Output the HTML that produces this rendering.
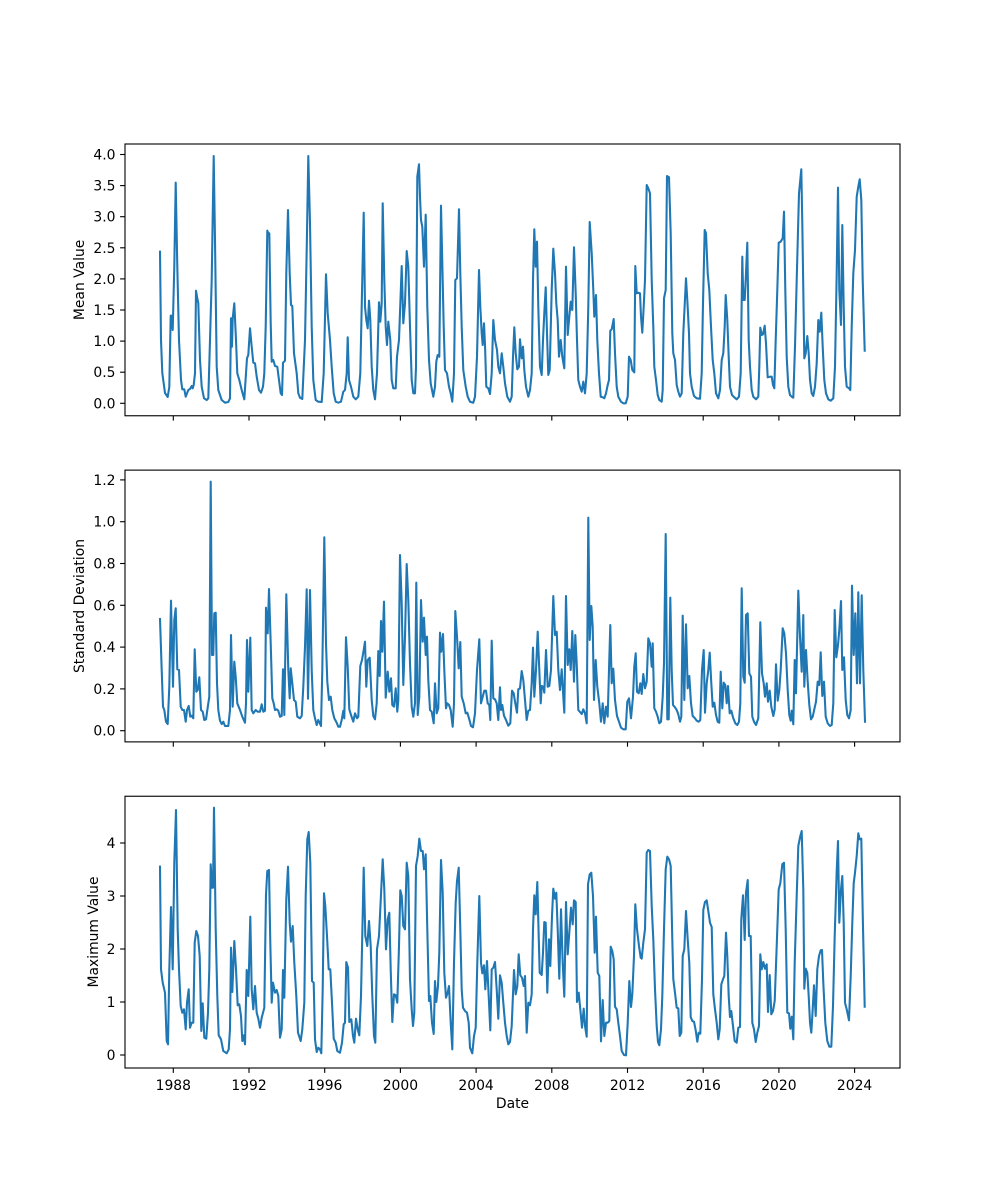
<!DOCTYPE html>
<html><head><meta charset="utf-8"><style>
html,body{margin:0;padding:0;background:#fff;}
svg{display:block;}
text{font-family:"DejaVu Sans","Liberation Sans",sans-serif;font-size:13.9px;fill:#000;}
.ln{fill:none;stroke:#1f77b4;stroke-width:2.08;stroke-linejoin:round;stroke-linecap:square;}
.sp{fill:none;stroke:#000;stroke-width:1.11;}
.tk{stroke:#000;stroke-width:1.11;}
</style></head><body>
<svg width="1000" height="1200" viewBox="0 0 1000 1200" xmlns="http://www.w3.org/2000/svg">
<rect width="1000" height="1200" fill="#fff"/>

<!-- ===== Chart 1 ===== -->
<polyline class="ln" points="160,251.7 161,340 162.3,373 165,393 167.7,397 169.3,387 170.7,315.7 171.7,315.7 172.7,330 174.3,266.7 175.7,182.7 177.3,266.7 179,340 181,380 182.3,389.3 184.3,389.3 185.7,396.7 188.3,390 190,389 191.7,386 192.7,388.3 193.7,385 195,373.3 196,290.7 197,296.7 198.3,303.3 200,360 201.7,386.7 204,398.3 206.7,400 208.3,398.3 210,340 211.7,280 213.7,156 215,240 216.7,366.7 218.3,390 221.7,400 225,402.7 228.3,402 230,398.3 231,318.3 232,346.7 232.7,318.3 234.3,303.3 236,340 237.3,373.3 239.3,380 241.7,390 244.3,399.3 246,373.3 247,358.3 248.3,355 250,328.3 251.7,346.7 253.3,362.7 255,363.3 256.7,376.7 259,390 261,392.7 263,386.7 264.3,373.3 265.7,326.7 267.3,230.7 268.3,233.3 269.3,233.3 270.7,323.3 271.7,361.7 273.3,360 275,366 277.3,366.7 279,380 280.7,393.3 282,395 283,362.7 285,360.7 286.3,273.3 288,210 289.7,273.3 291,305 292.3,306 294,353.3 296.7,373.3 298.3,393.3 300,397.7 302.3,399 305,340 306.7,250 308.3,156 310,223.3 311.7,326.7 313.3,380 315.7,400 318.3,401.7 321.7,402 323.7,373.3 326,274.3 327.7,313.3 330,340 331.7,366.7 333.7,393.3 335.7,401.7 338.3,402.7 341,401.7 343.3,391.7 345,390 346.7,373.3 347.7,337.3 349,380 351,386.7 353.3,396.7 355.7,399.3 358.3,396.7 360.3,373.3 361.7,306.7 363.7,212.7 365,306.7 366.3,320 367.7,328.3 369,300.7 370.3,320 371.7,366.7 373.3,390 375,399.3 377,373.3 379,302.3 380.3,321.7 381.7,303.3 382.7,203.3 384.3,280 385.7,326.7 387,345 388.3,321.7 390.3,340 391.7,380 393.3,388.3 395.7,388.3 397,356.7 399,340 401.7,266 403.3,323.3 405,303.3 406.7,251 408.3,266.7 410,326.7 411.7,380 413.3,393.3 415,393.3 416,366.7 417.3,176.7 419,164.3 420,196.7 421,220 422.3,226.7 424,266.7 425.7,214.7 427.3,306.7 429,360 430.7,383.3 433.3,396.7 435,386.7 436.3,361.7 437.7,355 439.3,356.7 441,205.7 442.3,263.3 443.7,326.7 445,370 447,373.3 449,386.7 450.7,393.3 452.3,401.7 454,373.3 455.3,280 457,278.3 459,209.3 460.3,273.3 461.7,326.7 463.3,370 465.7,386.7 467.7,396.7 470,401.7 473.3,402.7 475,396.7 477,356.7 479,270 480.3,306.7 481.7,333.3 482.7,345 484,323.3 485,345 486.3,386.7 488.3,388.3 490,394 491.7,373.3 493.3,320 495,340 497,350 498.3,366.7 500,373.3 501.7,353.3 503.3,366.7 505,383.3 507.3,396.7 510,401.7 511.7,396.7 513,356.7 514.3,327.3 515.7,353.3 517.3,369.3 519,366.7 520,339.3 521.7,358.3 523,346.7 524.3,370 526,386.7 528.3,396.7 530,390 531.7,373.3 533,280 534.3,229.3 535.7,266.7 537,241.7 538.3,306.7 540,366.7 541.7,375 543,340 544.3,313.3 545.7,287.3 547,333.3 548.3,375 549.7,370 551.7,290 553.3,248.7 555,273.3 556.3,303.3 557.7,320 559,356.7 560.7,340 562.3,356.7 564.3,368.3 566,266.7 567.7,335 569.3,316.7 570.7,301.7 572.3,310 574,247.3 575.7,293.3 577,340 578.3,380 580,386.7 581.7,391.7 583.3,381.7 585,393.3 586.7,373.3 588.3,306.7 589.7,222 591.7,253.3 593.3,290 594.3,316.7 596,295 597.3,340 599,373.3 600.7,396.7 602.7,397.3 604.3,398.3 606,393.3 607.7,385 609,380 610.3,330.7 611.7,329.3 613.7,319 615,353.3 616.7,386.7 618.3,396.7 621,401.7 623.3,403.3 625.7,403.3 627.7,396.7 629,356.7 630.7,360 632.3,370 634.3,372.3 635.3,266 636.7,293.3 638.3,292.7 640,293.3 641,316.7 642.3,332.7 643.7,306.7 645,280 646.7,185 648.3,188.3 650,193.3 651.7,280 653.3,326.7 654.3,366.7 656,380 657.7,395 659.3,400 661.7,401.7 662.7,390 664,298.3 665.7,290 667,176 669,177.3 670.7,233.3 672.3,333.3 673.3,353.3 675,360 676.7,385 678.3,391.7 680,396.7 681.7,393.3 683.3,333.3 686,278.3 687.3,300 689,333.3 690,373.3 691.7,386.7 694,396 696.7,398.3 700,398.7 701.7,373.3 703,303.3 704.7,230 706,233.3 707.7,273.3 709.3,290 711,326.7 712.7,360 714.3,373.3 716,393.3 718.3,398.3 720,390 721.7,360 723.3,353.3 724.7,326.7 725.7,295 727.3,320 728.7,356.7 730,386.7 732,395 734.3,397.3 736.7,399.3 739,396.7 740.7,373.3 742.3,256.7 743.3,300 744.7,300 746,273.3 747.3,242.7 748.7,340 750,366.7 751.7,390 753.3,396.7 756,399.3 758.3,396.7 759.3,366.7 760.3,327.7 761.7,335 763,334.3 764.7,325.7 766,343.3 767.7,377.3 770,376.7 771.7,376.7 773,385 774.3,388.3 775.7,340 777.3,290 778.7,242.7 780.7,241.7 782.7,238.3 784,211.7 785.3,290 786.7,356.7 788.3,386.7 790,395 791.7,396.7 793.3,397.7 795,346.7 796.7,280 799,193.3 801.3,169.3 802.3,223.3 803.3,290 804.3,358.3 805.7,353.3 807.3,336 808.7,353.3 810,380 811.7,393.3 813.3,396 815,386.7 816.7,363.3 818.3,320 819.7,331.7 821.3,312.7 822.7,346.7 824.3,380 826,393.3 828.3,399.3 830.7,400.7 833.3,398.3 835,366.7 836.7,273.3 838,187.7 839.3,290 841,325 842.3,225 843.7,306.7 845,366.7 846.7,386.7 849,388.3 850.3,390 851.7,326.7 853.3,273.3 855,250 856.7,196.7 858.3,186.7 859.7,179.3 861.3,200 862.7,280 864.7,350.7"/>
<rect class="sp" x="125" y="144" width="775" height="271.76"/>
<g class="tk">
<line x1="120.1" y1="403.3" x2="125" y2="403.3"/><line x1="120.1" y1="372.2" x2="125" y2="372.2"/><line x1="120.1" y1="341.1" x2="125" y2="341.1"/><line x1="120.1" y1="310" x2="125" y2="310"/><line x1="120.1" y1="278.9" x2="125" y2="278.9"/><line x1="120.1" y1="247.8" x2="125" y2="247.8"/><line x1="120.1" y1="216.7" x2="125" y2="216.7"/><line x1="120.1" y1="185.6" x2="125" y2="185.6"/><line x1="120.1" y1="154.5" x2="125" y2="154.5"/>
<line x1="173.3" y1="415.76" x2="173.3" y2="420.6"/><line x1="249" y1="415.76" x2="249" y2="420.6"/><line x1="324.7" y1="415.76" x2="324.7" y2="420.6"/><line x1="400.4" y1="415.76" x2="400.4" y2="420.6"/><line x1="476.1" y1="415.76" x2="476.1" y2="420.6"/><line x1="551.8" y1="415.76" x2="551.8" y2="420.6"/><line x1="627.5" y1="415.76" x2="627.5" y2="420.6"/><line x1="703.2" y1="415.76" x2="703.2" y2="420.6"/><line x1="778.9" y1="415.76" x2="778.9" y2="420.6"/><line x1="854.6" y1="415.76" x2="854.6" y2="420.6"/>
</g>
<g text-anchor="end">
<text x="115.5" y="408.3">0.0</text><text x="115.5" y="377.2">0.5</text><text x="115.5" y="346.1">1.0</text><text x="115.5" y="315">1.5</text><text x="115.5" y="283.9">2.0</text><text x="115.5" y="252.8">2.5</text><text x="115.5" y="221.7">3.0</text><text x="115.5" y="190.6">3.5</text><text x="115.5" y="159.5">4.0</text>
</g>
<text transform="translate(84,279.9) rotate(-90)" text-anchor="middle">Mean Value</text>

<!-- ===== Chart 2 ===== -->
<polyline class="ln" points="160,619 161.7,670 163,706.7 164.3,710 166,721.7 167.7,724 169.3,686.7 171,600.7 173,686.7 174.3,620 175.7,608.3 177.3,669.3 179,670 180.7,706.7 182.3,710 184,710 185.7,721.7 187,710 188.7,706 190.3,716.7 191.7,715.7 193.3,718.3 194.7,649.3 196.3,691.7 197.7,690 199.3,677.3 201,710 202.7,711.7 204.3,720 206,719.3 208.3,703.3 209.3,696.7 210.7,481.7 212,655 213.3,655 214.3,613.3 215.7,612.7 217,683.3 218.3,710 220,720.7 221.7,724 223.3,721.7 225,726 228.3,726 230,710 231,635 232.7,706.7 234.3,661.7 235.7,676.7 237.3,703.3 240,710 242.3,716.7 245,722.7 246,703.3 247,640 248.3,691.7 250.3,637.7 251.7,710 253.3,713.3 255.7,710 257.7,711.7 260,711.7 261.7,704.3 263.3,711.7 265,710.7 266,607.7 267.7,633.3 269,589 270.7,643.3 272.3,698.3 273.7,703.3 275,710 276.7,709.3 278.3,710.7 280,716.7 281.7,716 283,669.3 284.3,715 286.3,594.3 288.3,670 289.7,698.3 290.7,668.3 292.3,683.3 294,700 295.7,701.7 297.3,716.7 300,718.3 301.7,716 303.3,686.7 305,646.7 306.7,589.3 308,698.7 310,590 311.7,670 313.3,710 315,718.3 316.7,725 318.3,720 321,726 322.3,670 324.3,537.3 326,643.3 327.3,681.7 329,700 330.7,696.7 332.3,710 334.3,718.3 336.7,722.7 338.3,726.7 340,726.7 341.7,720 343.3,710.7 344.3,718.3 346,637.3 347.7,666.7 349.3,709.3 351,715 353.3,721.7 355,713.3 357,718.3 358.3,716.7 360.3,666 362,660 363.7,650 365,641.7 366.3,686.7 367.7,660 369.7,657.7 371.7,700 373.3,716 375,719.3 376.7,703.3 378.3,651 379.7,676 381,621 382.3,651.7 384,601.7 385.7,697.7 387.7,671.7 389.3,691.7 391,678.3 392.3,705 394,706.7 395.7,688.3 397.3,711.7 398.3,700 400,555 401.7,603.3 403.3,685 405,636.7 406.7,564 408.3,600 410,663.3 411.7,706.7 413.3,716.7 415,703.3 416.3,582.7 417.7,715 419.3,696.7 421,600 422.7,641.7 424,617.7 425.7,655 427,636.7 428.3,680 430,710 431.7,711.7 433.7,723.3 435,683.3 436.7,713.3 438.3,708.3 440,632.7 441.3,651.7 443,634 444.3,670 446,708.3 447.3,703.3 449,705 450.7,710 452.7,726.7 454,703.3 455.3,611 457,636.7 458.7,668.3 460.3,642 461.7,696.7 463.7,703.3 465.7,713.3 467.3,712.7 469,718.3 471,726 473,727.3 475,713.3 477,670 479.3,639.3 481,703.3 482.7,696.7 484.3,690.7 486,690.7 487.7,703.3 489.3,705 490.3,720 491.7,640.7 493.3,698.3 495,699.3 496.7,703.3 498.3,720 500,687.3 501,710 502.3,705 504,715.7 506,720 508.3,725.7 510.3,723.3 512,690.7 513.7,693.3 515,701.7 517,712.7 518.3,689.3 520,688.3 521.7,671 523.3,680 525,700 526.7,720 528.3,710.7 530,710 531.7,683.3 533,647.7 534.3,696.7 536,670 537.7,631.7 539.3,670 540.7,703.3 541.7,686 543.3,686.7 544.3,692.7 546,650 547.7,686.7 549.3,686 551,670 553.3,596 555,635 556.7,631.7 558.3,670 560,690 561.7,669.3 563.3,696.7 564.3,712.7 566,596 567.7,665 569.3,649.3 570.7,670 572.3,631 574,681.7 575.3,635 576.7,663.3 578.3,710 581.7,714 583.3,709.3 585,713.3 586.7,723.3 588.3,517.7 589.7,640 591.3,606 592.7,626.7 594,700 595.7,660 597.3,686.7 599.3,703.3 601,721.7 602.7,703.3 604.3,723.3 606,706.7 607.7,716.7 609,670 610.3,625 611.7,683.3 613.3,668.7 615,700 617,716 619,721.7 621,727.7 623.3,729.3 625.7,729.3 627.3,701.7 629,698.3 631,718.3 633,696.7 634.3,666.7 635.7,653.3 637,691.7 638.7,693.3 640.3,683.3 641.7,694 643.3,674 645,688.3 646.7,681.7 648.3,638.3 650,643.3 651.7,666.7 652.7,643.3 654.3,708.3 656,711.7 657.7,716.7 659.3,723.3 661,721.7 662.7,696.7 664,663.3 665.7,534 667.3,719.3 668.7,719.3 670.3,597.7 671.7,670 673,705 675,707.3 676.7,710 678.3,714.3 680,721.7 681.3,716.7 682.7,615.7 684.3,700 686,624.3 687.7,688.3 689.3,676 691,703.3 692.7,716 695,718.3 696.7,720.7 698.7,721.7 700.3,720 702,670 703.7,650 705,712.7 706.7,683.3 708.3,670 709.7,652.7 711.3,683.3 712.7,706.7 714.3,702.7 716,715 717.7,721.7 719.3,722.7 720.7,671.7 722.3,708.3 723.7,682.7 725.3,685 726.7,703.3 728,686 729.7,713.3 731.3,710.7 733.3,718.3 735.3,723.3 737.3,725 739,721.7 740.3,703.3 741.7,588.3 743.3,676.7 744.7,682.7 746,615 747.7,613.3 749.3,673.3 751,676.7 752.3,716.7 754,721.7 756,725 758.3,718.3 760.3,622.3 762,673.3 763.7,683.3 765,696.7 766.7,683.3 768,701.7 769.7,690.7 771.3,706.7 773.3,716 774.7,709.3 776,664.3 777.7,700.7 779.3,690 780.7,670 782.7,628.3 784.3,633.3 786,653.3 787.7,690 789.3,715 790.7,720.7 791.7,710.7 793.3,724.3 794.7,660 796,693.3 798.3,590.7 800,636.7 801.7,671.7 803.3,615 804.3,686.7 806,650 807.7,681.7 809.3,705 811,719.3 812.7,716.7 814.3,709.3 816,701.7 817.7,681.7 819.3,685 820.7,652.3 822.3,696 824,681.7 825.7,716.7 827.7,723.3 830,726 831.7,725 833.3,703.3 834.7,610 836.3,657.3 838,645 839.3,630 841,601 842.3,670 844,657.3 845.7,700 847.3,715 849,718.3 850.7,710 852,585.7 853.7,655 855.3,613.3 857,683.3 858.3,592.3 860,683.3 861.7,595.3 863.3,670 865,721.7"/>
<rect class="sp" x="125" y="470.12" width="775" height="271.76"/>
<g class="tk">
<line x1="120.1" y1="730.7" x2="125" y2="730.7"/><line x1="120.1" y1="688.9" x2="125" y2="688.9"/><line x1="120.1" y1="647.1" x2="125" y2="647.1"/><line x1="120.1" y1="605.3" x2="125" y2="605.3"/><line x1="120.1" y1="563.5" x2="125" y2="563.5"/><line x1="120.1" y1="521.7" x2="125" y2="521.7"/><line x1="120.1" y1="479.9" x2="125" y2="479.9"/>
<line x1="173.3" y1="741.88" x2="173.3" y2="746.7"/><line x1="249" y1="741.88" x2="249" y2="746.7"/><line x1="324.7" y1="741.88" x2="324.7" y2="746.7"/><line x1="400.4" y1="741.88" x2="400.4" y2="746.7"/><line x1="476.1" y1="741.88" x2="476.1" y2="746.7"/><line x1="551.8" y1="741.88" x2="551.8" y2="746.7"/><line x1="627.5" y1="741.88" x2="627.5" y2="746.7"/><line x1="703.2" y1="741.88" x2="703.2" y2="746.7"/><line x1="778.9" y1="741.88" x2="778.9" y2="746.7"/><line x1="854.6" y1="741.88" x2="854.6" y2="746.7"/>
</g>
<g text-anchor="end">
<text x="115.5" y="735.7">0.0</text><text x="115.5" y="693.9">0.2</text><text x="115.5" y="652.1">0.4</text><text x="115.5" y="610.3">0.6</text><text x="115.5" y="568.5">0.8</text><text x="115.5" y="526.7">1.0</text><text x="115.5" y="484.9">1.2</text>
</g>
<text transform="translate(84,606) rotate(-90)" text-anchor="middle">Standard Deviation</text>

<!-- ===== Chart 3 ===== -->
<polyline class="ln" points="160,866.7 161,969.3 162.7,982.7 165,992.7 166.7,1041 168,1044.3 169.3,969.3 171,907 172.7,969.3 174.3,862.7 176,810 177.7,929.3 179,969.3 180.7,1006 182.3,1012.7 184,1009.3 185.7,1029.3 187,1002.7 188.7,989.3 190,1027.7 191.7,1022.7 193.3,1022.7 194.7,942.7 196.3,931 198,936 199.7,956 201.3,1031 202.7,1003.3 204.3,1037.7 206.3,1038.7 208,1012.7 209.3,969.3 210.7,864.3 212,887.7 213,887.7 214,807.7 215.7,929.3 217.3,996 218.7,1035.3 221,1039.3 223.3,1051 226.7,1053.3 228.7,1049.3 230,1029.3 231,947.7 232.3,992 234.3,941 236,969.3 237.7,1005.3 239.3,1004.3 241,1016 242.3,1041 243.7,1035.3 245,1044.3 246.7,970 248.3,996 250.3,916.7 251.7,989.3 253.3,1009.3 255,986 256.7,1012.7 258.3,1018.7 260,1027.7 261.7,1017.7 264.3,1007.7 266,894.3 267.3,871 269,870 270.3,942.7 271.7,1002.7 273,982.7 275,992.7 276.7,990 278.3,996 280,1037.7 281.7,1029.3 283,970 284.3,997.7 286.3,899.3 288,866.7 289.7,922.7 291,941.7 292.7,926 294.3,962.7 296.3,996 298,1032.7 300.7,1041 302.3,1029.3 304.3,1002.7 305.7,896 307.3,839.3 308.7,832 310.3,862.7 312,981 313.7,982.7 315,1039.3 316.7,1052 318.3,1047.7 320,1049.3 321.3,1053.3 322.7,989.3 324,893.3 325.3,906 327,936 328.7,969.3 330.3,969.3 332,1002.7 333.7,1038.7 335.7,1042.7 337.3,1051 340,1052.7 342,1042.7 343.7,1024.3 345,1022.7 346.3,962 348,967.7 349.3,1022 351.3,1019.3 353,1036 354.3,1042.7 356,1018.7 357.7,1029.3 359.3,1035.3 361,996 363.7,867.7 365.3,936 367.3,946 369,921 370.7,946 372.3,996 374,1036 375.3,1042.7 377,949.3 379,936 381,894.3 382.7,859.3 384.3,889.3 386,949.3 387.7,919.3 389.3,912.7 390.7,969.3 392.3,1022 394,994.3 395.7,995.3 397.3,1002.7 399,946 400.3,890.3 401.7,896 403.3,926 405,929.3 406.7,862.7 408.3,876 410,979.3 411.7,1009.3 413,1026 414.3,1012.7 416,866 417.7,856 419.3,838.7 421,851 422.7,851 424,869.3 425.7,854.3 427.3,929.3 429,1001 430.3,996 432,1022.7 433.7,1034 435,981 436.3,1002 438,986 439.3,952.7 441,860 442.7,892.7 444.3,972.7 446,997.7 447.7,992.7 449,986 450.7,1022.7 452.3,1049.3 454,962.7 455.7,902.7 457,881 458.7,867.7 460.3,929.3 461.7,989.3 463,1007.7 465,1011 467,1012.7 468.7,1022.7 470,1047.7 472.3,1053.3 474,1036 475.7,1027.7 477.3,962.7 479.3,896 481,962.7 482.3,973.3 484,965.3 485.3,989.3 487,961 488.7,996 490.3,1030.3 491.7,969.3 493.3,967.7 495,962 496.7,989.3 498.3,1018.7 500,975.3 501.7,982.7 503.3,1002.7 505,1022.7 506.7,1036 508.3,1044.3 510,1042 511.7,1026 514,970 515.7,994.3 517.3,986 518.7,954.3 520.3,975.3 522,977.7 523.7,986 525,976 526.7,1032.7 528.3,1002.7 530,1005.3 531.7,994.3 533,929.3 534.3,895.3 535.7,914.3 537.3,882 538.7,936 539.7,972.7 541.7,975 543,952.7 544.3,922 545.7,922.7 547.3,992.7 549,939.3 550.3,966 552,916 553.3,888.7 555,898.7 556.3,892.7 557.7,929.3 559.3,978.7 561,909.3 562.7,962.7 564.3,996.7 566,902 567.7,954.3 569.3,932.7 571,907.7 572.7,924.3 574,900.3 575.7,902 577,1002 578.7,992.7 580.3,1009.3 582,1027.7 583.7,1008.7 585,1026 586.7,1036.7 588,884.3 589.7,874.3 591.3,872.7 593,896 594.7,952.7 596,916.7 597.7,972.7 599.3,976 601,1041.3 602.7,1000 604.3,1036 606,1022.7 607.7,1022.7 609.3,1021 610.7,946.7 612.3,951 613.7,959.3 615,1006.7 616.7,1009.3 618.3,1022.7 620,1036 621.7,1051 624,1055 626,1055.3 627.7,1022.7 629.3,981 631,1007 632.3,994.3 634,956 635.3,904.3 637,929.3 639,946 640.7,957.7 641.7,958.7 643.3,942.7 645,929.3 646.7,852.7 648.3,850 650,851 651.7,906 653.3,939.3 655,989.3 656.7,1026 658,1042 659.3,1045.3 661,1029.3 662.3,996 664,929.3 665.7,869.3 667.3,856.7 669,859.3 670.7,866 672.3,939.3 673.3,979.3 675,992.7 676.7,1007.7 678.3,1008.3 679.7,1036 681.3,1032.7 682.7,956 684.3,949.3 686,911 687.7,939.3 689.3,962.7 690.7,1017 692.3,1021 694,1021.7 695.7,1030.3 697.3,1041.7 698.7,1032.7 700.3,1033.7 702,979.3 703.3,910 705,902 706.7,900.3 708.3,911 710,922.7 711.7,927 713.3,994.3 715,1009.3 716.7,1022.7 718.3,1039.3 719.7,1029.3 721.3,984.3 723,979.3 724.3,976 726,932.7 727.3,956 728.7,996 730,1017 731.3,1011 733,1026 734.7,1041 736.7,1042.7 738.3,1027.7 740,1027 741.3,919.3 743,895.3 744.7,940 746,892.7 747.7,880 749,936 750.7,936 752.3,1022.7 754,1029.3 755.7,1042 757.3,1032.7 759,1026 760.3,954.3 761.7,969.3 763.3,962 765,968.7 766.7,964.3 768,1012 769.7,975 771.3,1014.3 773,1011 774.7,1001 776.7,946 778.7,889.3 780.3,883.3 782.3,864.3 784,862.7 785.7,929.3 787.3,1012.7 789,1013.3 790.3,1028.7 791.7,1016.7 793.3,1039.3 794.7,962.7 796.7,896 798.3,846 800.3,836 801.7,831 803.3,889.3 804.3,988.7 805.7,968.7 807.3,972.7 808.7,996 810,1022.7 811.3,1032.7 812.7,1009.3 814,985.3 815.7,1016 817.3,969.3 819,956 820.7,950.3 822,950 823.3,982.7 825.3,1022.7 827.3,1041 829.3,1046.7 831.3,1046.7 833,1006 834.7,936 836.7,871 838,841 839.3,922.7 841,889.3 842.3,876 843.7,922.7 845,1002.7 846.7,1009.3 849,1020.3 850.7,976 852.3,922.7 853.7,883.3 855,872.7 856.7,856 858.3,833.3 859.7,839.3 861.3,838.7 862.7,912.7 864.7,1006.7"/>
<rect class="sp" x="125" y="796.24" width="775" height="271.76"/>
<g class="tk">
<line x1="120.1" y1="1055" x2="125" y2="1055"/><line x1="120.1" y1="1002" x2="125" y2="1002"/><line x1="120.1" y1="949" x2="125" y2="949"/><line x1="120.1" y1="896" x2="125" y2="896"/><line x1="120.1" y1="843" x2="125" y2="843"/>
<line x1="173.3" y1="1068" x2="173.3" y2="1072.9"/><line x1="249" y1="1068" x2="249" y2="1072.9"/><line x1="324.7" y1="1068" x2="324.7" y2="1072.9"/><line x1="400.4" y1="1068" x2="400.4" y2="1072.9"/><line x1="476.1" y1="1068" x2="476.1" y2="1072.9"/><line x1="551.8" y1="1068" x2="551.8" y2="1072.9"/><line x1="627.5" y1="1068" x2="627.5" y2="1072.9"/><line x1="703.2" y1="1068" x2="703.2" y2="1072.9"/><line x1="778.9" y1="1068" x2="778.9" y2="1072.9"/><line x1="854.6" y1="1068" x2="854.6" y2="1072.9"/>
</g>
<g text-anchor="end">
<text x="115.5" y="1060">0</text><text x="115.5" y="1007">1</text><text x="115.5" y="954">2</text><text x="115.5" y="901">3</text><text x="115.5" y="848">4</text>
</g>
<text transform="translate(98,932) rotate(-90)" text-anchor="middle">Maximum Value</text>
<g text-anchor="middle">
<text x="173.3" y="1090">1988</text><text x="249" y="1090">1992</text><text x="324.7" y="1090">1996</text><text x="400.4" y="1090">2000</text><text x="476.1" y="1090">2004</text><text x="551.8" y="1090">2008</text><text x="627.5" y="1090">2012</text><text x="703.2" y="1090">2016</text><text x="778.9" y="1090">2020</text><text x="854.6" y="1090">2024</text>
<text x="512.5" y="1108">Date</text>
</g>
</svg>
</body></html>
